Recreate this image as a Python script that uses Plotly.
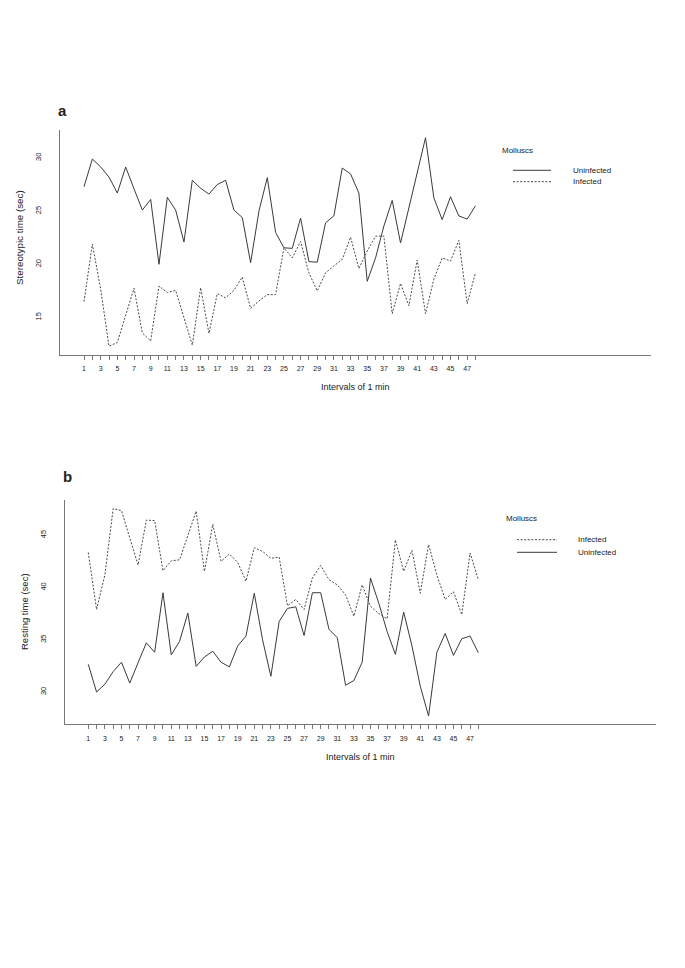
import plotly.graph_objects as go

# ---------------- data ----------------
intervals = [1, 2, 3, 4, 5, 6, 7, 8, 9, 10, 11, 12, 13, 14, 15, 16, 17, 18, 19, 20, 21, 22, 23, 24,
             25, 26, 27, 28, 29, 30, 31, 32, 33, 34, 35, 36, 37, 38, 39, 40, 41, 42, 43, 44, 45, 46, 47, 48]
x_tick_labels = ["1", "", "3", "", "5", "", "7", "", "9", "", "11", "", "13", "", "15", "", "17", "",
                 "19", "", "21", "", "23", "", "25", "", "27", "", "29", "", "31", "", "33", "", "35", "",
                 "37", "", "39", "", "41", "", "43", "", "45", "", "47", ""]

a_uninfected = [27.3, 29.9, 29.15, 28.2, 26.7, 29.15, 27.1, 25.1, 26.1, 20.0,
                26.3, 25.1, 22.1, 27.9, 27.15, 26.6, 27.5, 27.9, 25.1, 24.4,
                20.15, 25.0, 28.15, 23.0, 21.55, 21.5, 24.35, 20.25, 20.2, 23.9,
                24.55, 29.05, 28.5, 26.7, 18.4, 20.6, 23.6, 26.0, 22.0, 25.3,
                28.9, 31.9, 26.25, 24.2, 26.35, 24.55, 24.25, 25.5]
a_infected = [16.5, 21.9, 17.65, 12.3, 12.65, 15.3, 17.75, 13.55, 12.8, 17.95,
              17.35, 17.55, 14.85, 12.4, 17.8, 13.5, 17.25, 16.85, 17.55, 18.8,
              15.85, 16.55, 17.15, 17.15, 21.55, 20.6, 22.15, 19.2, 17.5, 19.2,
              19.85, 20.45, 22.55, 19.6, 21.25, 22.65, 22.65, 15.35, 18.2, 16.1,
              20.4, 15.35, 18.6, 20.6, 20.3, 22.25, 16.3, 19.2]

b_infected = [43.35, 37.9, 41.2, 47.55, 47.35, 44.7, 42.15, 46.45, 46.4, 41.6,
              42.55, 42.65, 44.95, 47.3, 41.55, 46.05, 42.5, 43.2, 42.4, 40.6,
              43.8, 43.45, 42.8, 42.9, 38.25, 38.85, 37.9, 40.9, 42.1, 40.75,
              40.25, 39.3, 37.25, 40.25, 38.2, 37.5, 37.0, 44.55, 41.55, 43.55,
              39.45, 44.1, 41.2, 38.85, 39.6, 37.4, 43.3, 40.75]
b_uninfected = [32.65, 30.0, 30.75, 31.95, 32.85, 30.85, 32.8, 34.7, 33.8, 39.5,
                33.55, 34.85, 37.55, 32.45, 33.35, 33.9, 32.85, 32.4, 34.4, 35.35,
                39.45, 35.0, 31.5, 36.75, 38.0, 38.15, 35.4, 39.5, 39.5, 36.0,
                35.2, 30.65, 31.1, 32.85, 40.9, 38.5, 35.8, 33.6, 37.65, 34.4,
                30.55, 27.7, 33.8, 35.6, 33.5, 35.1, 35.35, 33.75]

a_yticks = [15, 20, 25, 30]
b_yticks = [30, 35, 40, 45]

# ---------------- styling ----------------
W, H = 685, 968
FONT = "Liberation Sans, Arial, Helvetica, sans-serif"
TXT = "#222222"
AXC = "#777777"
SOLID = dict(color="#3a3a3a", width=1.0)
DASHED = dict(color="#4a4a4a", width=1.0, dash="2px,1.6px")


def px(xp):
    return xp / W


def py(yp):
    return 1 - yp / H


fig = go.Figure()

fig.add_trace(go.Scatter(x=intervals, y=a_uninfected, mode="lines", line=SOLID,
                         name="Uninfected", xaxis="x", yaxis="y", showlegend=False))
fig.add_trace(go.Scatter(x=intervals, y=a_infected, mode="lines", line=DASHED,
                         name="Infected", xaxis="x", yaxis="y", showlegend=False))
fig.add_trace(go.Scatter(x=intervals, y=b_infected, mode="lines", line=DASHED,
                         name="Infected", xaxis="x2", yaxis="y2", showlegend=False))
fig.add_trace(go.Scatter(x=intervals, y=b_uninfected, mode="lines", line=SOLID,
                         name="Uninfected", xaxis="x2", yaxis="y2", showlegend=False))

xcommon = dict(tickmode="array", tickvals=intervals, ticktext=x_tick_labels,
               ticks="outside", ticklen=4, tickwidth=1, tickcolor=AXC,
               showline=True, linecolor=AXC, linewidth=1, showgrid=False, zeroline=False,
               tickangle=0, tickfont=dict(size=7, color=TXT, family=FONT),
               ticklabelstandoff=3, fixedrange=True)
ycommon = dict(tickmode="array", ticks="", showline=True, linecolor=AXC, linewidth=1,
               showgrid=False, zeroline=False, tickangle=-90,
               tickfont=dict(size=7.5, color=TXT, family=FONT), ticklabelstandoff=15,
               fixedrange=True)

fig.update_layout(
    width=W, height=H,
    margin=dict(l=0, r=0, t=0, b=0),
    paper_bgcolor="white", plot_bgcolor="white",
    font=dict(family=FONT, color=TXT),
    showlegend=False,
    xaxis=dict(xcommon, domain=[px(51.7), px(643)], range=[-1.92, 69.07], anchor="y"),
    yaxis=dict(ycommon, domain=[py(346.7), py(122.3)], range=[11.5, 32.6],
               tickvals=a_yticks, anchor="x"),
    xaxis2=dict(xcommon, domain=[px(56.7), px(648)], range=[-1.84, 69.4], anchor="y2"),
    yaxis2=dict(ycommon, domain=[py(716.4), py(491.7)], range=[26.9, 48.4],
                tickvals=b_yticks, anchor="x2"),
)


def note(text, x, y, size, anchor="left", angle=0):
    return dict(text=text, x=px(x), y=py(y), xref="paper", yref="paper",
                xanchor=anchor, yanchor="middle", textangle=angle, showarrow=False,
                font=dict(size=size, family=FONT, color=TXT))


ann = []
# panel letters
ann.append(note("<b>a</b>", 48, 102, 15))
ann.append(note("<b>b</b>", 53, 468.5, 15))
# axis titles
ann.append(note("Stereotypic time (sec)", 11, 230, 9.8, "center", -90))
ann.append(note("Resting time (sec)", 16, 604, 9.5, "center", -90))
ann.append(note("Intervals of 1 min", 348, 379, 9, "center"))
ann.append(note("Intervals of 1 min", 353, 749, 9, "center"))

# legends (manual, R-style)
legend_specs = [
    (492, 142, 505, 543, 563, [(162.3, "Uninfected", SOLID), (173.7, "Infected", DASHED)]),
    (496, 510.7, 509, 549, 568, [(531.7, "Infected", DASHED), (544.3, "Uninfected", SOLID)]),
]
shapes = []
for tx, ty, lx0, lx1, labx, items in legend_specs:
    ann.append(note("Molluscs", tx, ty, 8))
    for yy, label, style in items:
        shapes.append(dict(type="line", xref="paper", yref="paper", x0=px(lx0), x1=px(lx1),
                           y0=py(yy), y1=py(yy), line=style))
        ann.append(note(label, labx, yy, 8))

fig.update_layout(annotations=ann, shapes=shapes)
fig.write_html("out.html")
